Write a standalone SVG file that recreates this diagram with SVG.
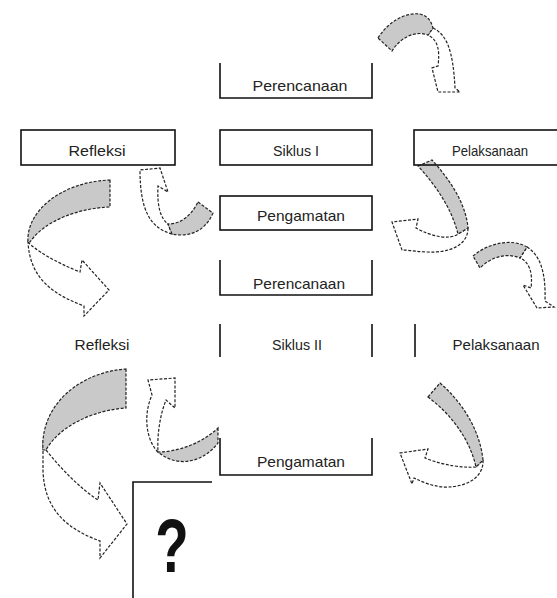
<svg xmlns="http://www.w3.org/2000/svg" width="557" height="598" viewBox="0 0 557 598">
<style>
.box{fill:none;stroke:#111;stroke-width:1.6}
.lbl{font-family:"Liberation Sans",Arial,sans-serif;font-size:15px;fill:#222;text-anchor:middle}
.band{fill:#c9c9c9;stroke:#222;stroke-width:1.2;stroke-dasharray:3 1.6}
.head{fill:#fff;stroke:#222;stroke-width:1.2;stroke-dasharray:3 1.6}
</style>
<rect width="557" height="598" fill="#fff"/>
<g id="connectors">
  <g id="arrow1">
    <path class="head" d="M433,28 C447,35 453,50 455,88 L460,92 L438,92 L432,68 L438,66 C440,50 438,40 428,35 Z"/>
    <path class="band" d="M378,38 C388,22 405,12 420,14 C428,16 431,21 433,28 L428,35 C415,30 400,38 392,51 Z"/>
  </g>
  <g id="arrow2">
    <path class="head" d="M468,228 C468,245 450,253 428,252 C418,252 410,250 402,250 L392,222 L418,219 L416,228 C432,237 450,240 458,234 Z"/>
    <path class="band" d="M418,166 L432,160 C452,182 466,205 468,228 L458,234 C452,210 438,188 418,166 Z"/>
  </g>
  <g id="arrow3">
    <path class="head" d="M527,247 C540,255 546,272 545,301 L554,307 L537,308 L523,285 L531,288 C533,272 529,262 520,258 Z"/>
    <path class="band" d="M473,256 C488,243 512,238 527,247 L520,258 C505,252 490,258 480,268 Z"/>
  </g>
  <g id="arrow4">
    <path class="head" d="M172,234 C150,228 140,210 140,170 L160,168 L168,192 L158,186 C157,205 160,218 168,224 Z"/>
    <path class="band" d="M198,202 L213,213 C206,230 190,238 172,234 L168,224 C182,224 192,214 198,202 Z"/>
  </g>
  <g id="arrow5">
    <path class="head" d="M28,242 C35,250 55,262 80,272 L82,260 L109,290 L84,316 L84,306 C55,295 30,280 28,242 Z"/>
    <path class="band" d="M110,180 L110,207 C80,208 45,220 30,242 L28,242 C26,212 60,182 110,180 Z"/>
  </g>
  <g id="arrow6">
    <path class="head" d="M46,450 C62,470 80,488 98,500 L100,483 L127,524 L100,558 L100,541 C70,530 44,512 43,470 L43,440 Z"/>
    <path class="band" d="M126,369 L126,408 C95,410 60,425 46,450 L43,450 C40,405 80,372 126,369 Z"/>
  </g>
  <g id="arrow7">
    <path class="head" d="M158,452 C146,440 143,415 152,395 L148,380 L175,378 L175,408 L166,400 C160,415 157,435 158,452 Z"/>
    <path class="band" d="M218,428 L218,443 C205,460 180,470 158,452 C175,452 200,445 218,428 Z"/>
  </g>
  <g id="arrow8">
    <path class="head" d="M483,460 C484,478 465,488 443,487 C432,486 422,482 414,478 L412,484 L400,453 L428,449 L425,458 C445,466 465,468 476,467 Z"/>
    <path class="band" d="M428,397 L440,383 C462,402 480,430 483,460 L476,467 C470,440 452,415 428,397 Z"/>
  </g>
</g>
<g id="perencanaan1">
  <path class="box" d="M220,63 V98 H372 V63"/>
  <text class="lbl" x="300" y="91" textLength="95" lengthAdjust="spacingAndGlyphs">Perencanaan</text>
</g>
<g id="refleksi1">
  <rect class="box" x="21" y="130" width="154" height="35"/>
  <text class="lbl" x="97" y="156" textLength="57" lengthAdjust="spacingAndGlyphs">Refleksi</text>
</g>
<g id="siklus1">
  <rect class="box" x="220" y="130" width="152" height="35"/>
  <text class="lbl" x="296" y="156" textLength="46" lengthAdjust="spacingAndGlyphs">Siklus I</text>
</g>
<g id="pelaksanaan1">
  <rect class="box" x="414" y="130" width="150" height="35"/>
  <text class="lbl" x="490" y="156" textLength="76" lengthAdjust="spacingAndGlyphs">Pelaksanaan</text>
</g>
<g id="pengamatan1">
  <rect class="box" x="220" y="196" width="152" height="34"/>
  <text class="lbl" x="301" y="221" textLength="88" lengthAdjust="spacingAndGlyphs">Pengamatan</text>
</g>
<g id="perencanaan2">
  <path class="box" d="M220,260 V295 H372 V260"/>
  <text class="lbl" x="299" y="289" textLength="92" lengthAdjust="spacingAndGlyphs">Perencanaan</text>
</g>
<g id="refleksi2">
  <text class="lbl" x="102" y="350" textLength="55" lengthAdjust="spacingAndGlyphs">Refleksi</text>
</g>
<g id="siklus2">
  <path class="box" d="M220,324 V357 M372,324 V357"/>
  <text class="lbl" x="297" y="350" textLength="50" lengthAdjust="spacingAndGlyphs">Siklus II</text>
</g>
<g id="pelaksanaan2">
  <path class="box" d="M415,324 V357"/>
  <text class="lbl" x="496" y="350" textLength="87" lengthAdjust="spacingAndGlyphs">Pelaksanaan</text>
</g>
<g id="pengamatan2">
  <path class="box" d="M220,438 V475 H372 V438"/>
  <text class="lbl" x="301" y="467" textLength="88" lengthAdjust="spacingAndGlyphs">Pengamatan</text>
</g>
<g id="question">
  <path class="box" d="M212,482 H133 V598"/>
  <text x="172" y="572" font-family="Liberation Sans,Arial,sans-serif" font-weight="bold" font-size="76" fill="#111" text-anchor="middle" transform="translate(172,0) scale(0.72,1) translate(-172,0)">?</text>
</g>
</svg>
